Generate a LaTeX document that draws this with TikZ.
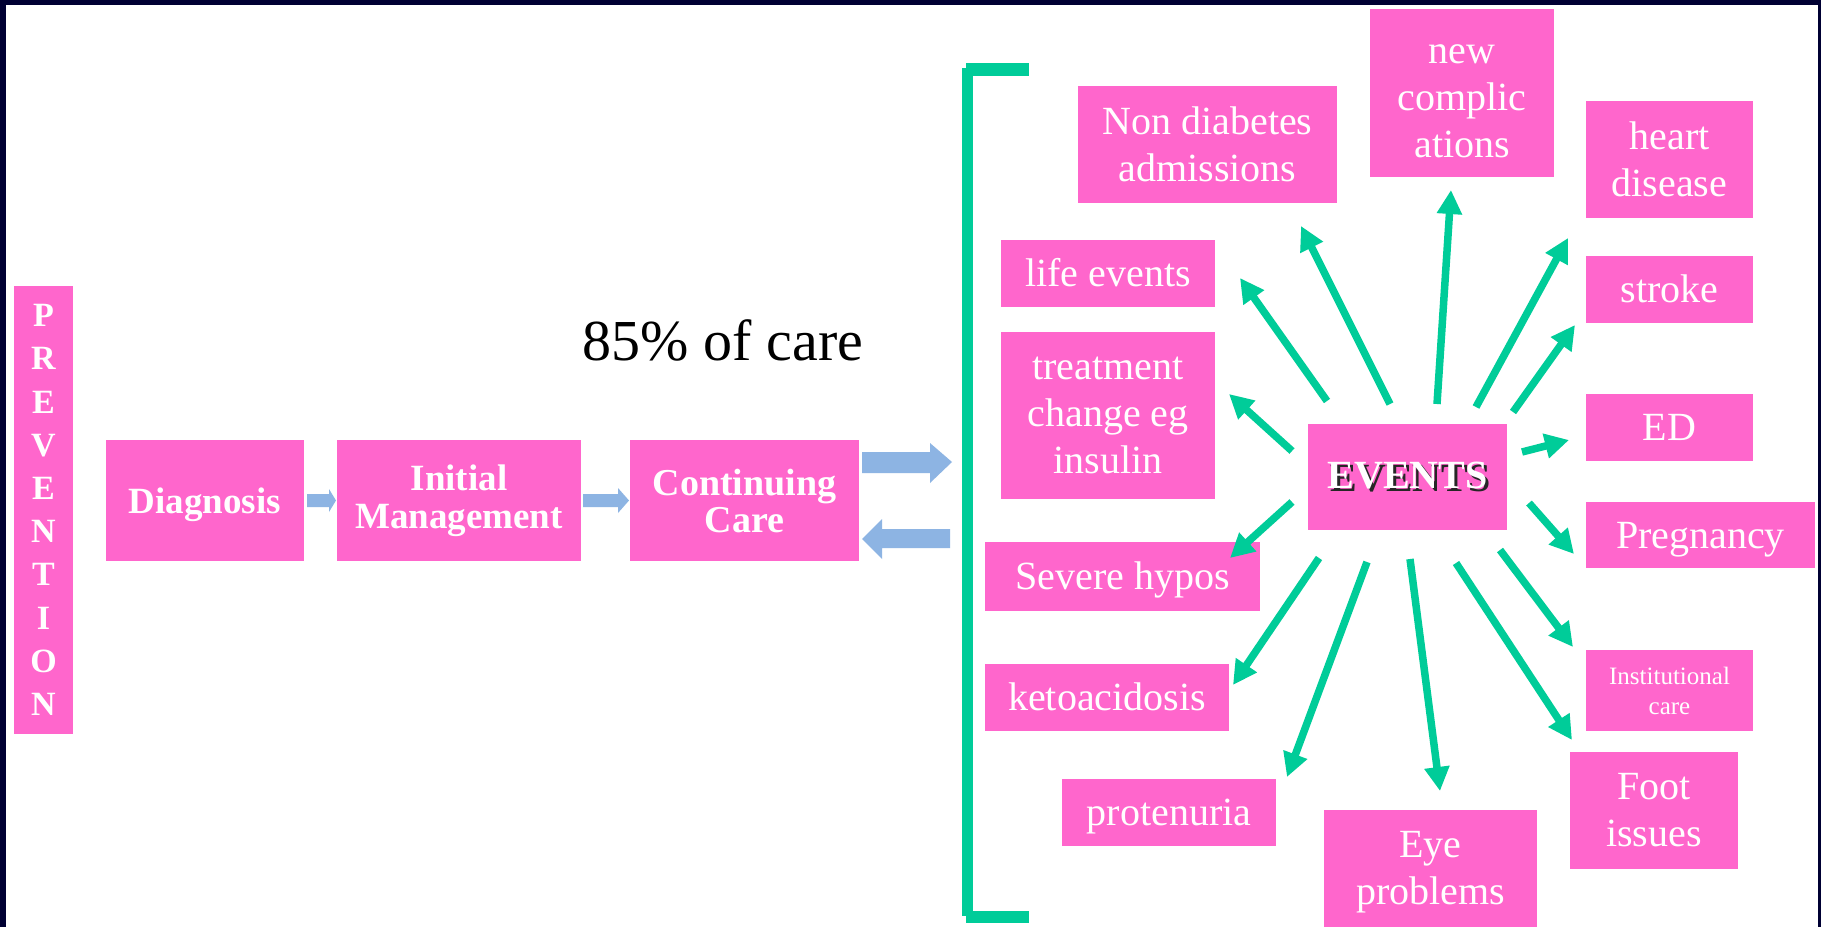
\documentclass[tikz,border=0pt]{standalone}
\usepackage{fontspec}
\setmainfont{Liberation Serif}
\usetikzlibrary{arrows.meta}
\definecolor{pinkbox}{HTML}{FF66CC}
\definecolor{bluearr}{HTML}{8DB4E3}
\definecolor{greenarr}{HTML}{00CC99}
\definecolor{navyc}{HTML}{000033}
\newcommand\shadowtxt[1]{\makebox[0pt][l]{\kern3pt\raisebox{-3pt}{\color{black!85}#1}}#1}
\begin{document}
\begin{tikzpicture}[x=1pt,y=-1pt,
  box/.style={fill=pinkbox,text=white,inner sep=0pt,align=center,font=\fontsize{40}{47}\selectfont},
  one/.style={text height=32pt,text depth=6pt},
  bbox/.style={box,font=\fontsize{37}{38}\selectfont\bfseries},
  garrow/.style={draw=greenarr,line width=7.5pt,-{Triangle[length=24pt,width=24pt]}},
  barrow/.style={fill=bluearr,draw=none}]
\useasboundingbox (0,0) rectangle (1821,927);
\fill[navyc] (0,0) rectangle (1821,927);
\fill[white] (6,5) rectangle (1818,927);

% left flow
\node[bbox,minimum width=59pt,minimum height=448pt,font=\fontsize{34}{43.2}\selectfont\bfseries] (prev) at (43.5,510) {P\\R\\E\\V\\E\\N\\T\\I\\O\\N};
\node[bbox,one,minimum width=198pt,minimum height=121pt] (diag) at (205,500.5) {Diagnosis};
\node[bbox,minimum width=244pt,minimum height=121pt] (init) at (459,500.5) {Initial\\Management};
\node[bbox,minimum width=229pt,minimum height=121pt,font=\fontsize{38}{37}\selectfont\bfseries] (cont) at (744.5,500.5) {Continuing\\Care};
\node[anchor=base,font=\fontsize{58}{60}\selectfont,inner sep=0pt] (pct) at (723,360) {85\% of care};

% blue block arrows
\fill[barrow] (307,494) -- (329,494) -- (329,489) -- (336,500.5) -- (329,512) -- (329,507) -- (307,507) -- cycle;
\fill[barrow] (583,494) -- (618,494) -- (618,488) -- (629,500.5) -- (618,513) -- (618,507) -- (583,507) -- cycle;
\fill[barrow] (862,452) -- (930,452) -- (930,443) -- (952,462) -- (930,483) -- (930,473) -- (862,473) -- cycle;
\fill[barrow] (950,529) -- (882,529) -- (882,519) -- (862,539) -- (882,559) -- (882,548) -- (950,548) -- cycle;

% bracket
\fill[greenarr] (962,68) rectangle (973,916);
\fill[greenarr] (966,63) rectangle (1029,76);
\fill[greenarr] (966,911) rectangle (1029,923);

% event boxes
\node[box,minimum width=199pt,minimum height=106pt,font=\fontsize{40}{40}\selectfont\bfseries] (events) at (1407.5,477) {\shadowtxt{EVENTS}};
\node[box,one,minimum width=167pt,minimum height=67pt] (ed) at (1669.5,427.5) {ED};
\node[box,one,minimum width=229pt,minimum height=66pt] (preg) at (1700.5,535) {Pregnancy};
\node[box,minimum width=167pt,minimum height=81pt,font=\fontsize{25}{30}\selectfont] (inst) at (1669.5,690.5) {Institutional\\care};
\node[box,minimum width=168pt,minimum height=117pt] (foot) at (1654,810.5) {Foot\\issues};
\node[box,minimum width=213pt,minimum height=117pt] (eye) at (1430.5,868.5) {\rule{0pt}{34pt}Eye\\problems};
\node[box,one,minimum width=214pt,minimum height=67pt] (prot) at (1169,812.5) {protenuria};
\node[box,one,minimum width=244pt,minimum height=67pt] (keto) at (1107,697.5) {ketoacidosis};
\node[box,one,minimum width=275pt,minimum height=69pt] (hypo) at (1122.5,576.5) {Severe hypos};
\node[box,minimum width=214pt,minimum height=167pt] (treat) at (1108,415.5) {treatment\\change eg\\insulin};
\node[box,one,minimum width=214pt,minimum height=67pt] (life) at (1108,273.5) {life events};
\node[box,minimum width=259pt,minimum height=117pt] (nondiab) at (1207.5,144.5) {Non diabetes\\admissions};
\node[box,minimum width=184pt,minimum height=168pt] (newc) at (1462,93) {\rule{0pt}{36pt}new\\complic\\ations};
\node[box,minimum width=167pt,minimum height=117pt] (heart) at (1669.5,159.5) {heart\\disease};
\node[box,one,minimum width=167pt,minimum height=67pt] (stroke) at (1669.5,289.5) {stroke};

% arrow end points
\coordinate (s1) at (1327,401);  \coordinate (t1) at (1240,278);
\coordinate (s2) at (1390,404);  \coordinate (t2) at (1301,226);
\coordinate (s3) at (1437,404);  \coordinate (t3) at (1451,190);
\coordinate (s4) at (1476,407);  \coordinate (t4) at (1568,238);
\coordinate (s5) at (1513,412);  \coordinate (t5) at (1575,325);
\coordinate (s6) at (1522,452);  \coordinate (t6) at (1569,440);
\coordinate (s7) at (1292,451);  \coordinate (t7) at (1229,394);
\coordinate (s8) at (1292,502);  \coordinate (t8) at (1230,558);
\coordinate (s9) at (1529,503);  \coordinate (t9) at (1574,554);
\coordinate (s10) at (1500,550); \coordinate (t10) at (1573,647);
\coordinate (s11) at (1456,563); \coordinate (t11) at (1572,740);
\coordinate (s12) at (1410,559); \coordinate (t12) at (1440,791);
\coordinate (s13) at (1367,562); \coordinate (t13) at (1287,777);
\coordinate (s14) at (1319,558); \coordinate (t14) at (1233,685);
\foreach \i in {1,...,14} {\draw[garrow] (s\i) -- (t\i);}
\end{tikzpicture}
\end{document}
